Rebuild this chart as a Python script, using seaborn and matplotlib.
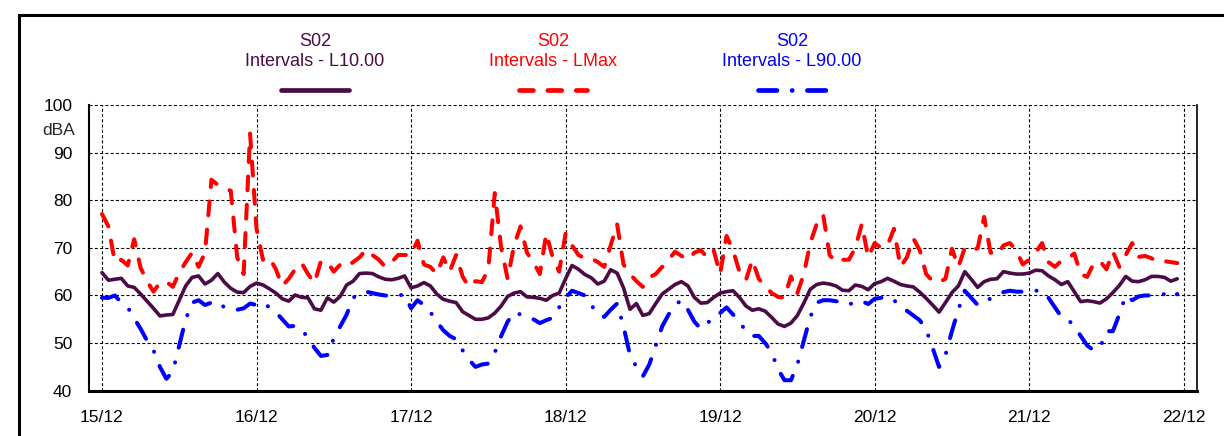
### Dependencies ---------------------------------------------------------------
import numpy as np
import pandas as pd
import matplotlib
matplotlib.use("Agg")
import matplotlib.pyplot as plt
import matplotlib.transforms as mtransforms
from matplotlib.lines import Line2D
from matplotlib.patches import Rectangle
import seaborn as sns

### Data (hourly values, 15/12 00:00 -> 21/12 23:00) ---------------------------
day_labels = ["15/12", "16/12", "17/12", "18/12", "19/12", "20/12", "21/12", "22/12"]

l10 = [
    64.8, 63.2, 63.4, 63.6, 62.0, 61.7, 60.3, 58.8, 57.3, 55.7, 55.9, 56.0, 59.0, 62.0, 63.8, 64.1, 62.4, 63.2, 64.6, 62.8, 61.5, 60.7, 60.6, 61.9,
    62.6, 62.2, 61.4, 60.5, 59.3, 58.8, 60.1, 59.6, 59.5, 57.2, 56.9, 59.5, 58.6, 59.8, 62.2, 63.0, 64.6, 64.7, 64.6, 63.9, 63.4, 63.3, 63.6, 64.1,
    61.6, 62.0, 62.7, 62.0, 60.3, 59.2, 58.8, 58.5, 56.6, 55.8, 55.0, 55.0, 55.3, 56.3, 57.8, 59.8, 60.5, 60.8, 59.7, 59.6, 59.4, 59.0, 60.0, 60.5,
    63.5, 66.3, 65.5, 64.4, 63.7, 62.4, 63.0, 65.4, 64.7, 61.6, 57.1, 58.3, 55.8, 56.2, 58.3, 60.3, 61.3, 62.3, 62.9, 62.0, 59.6, 58.4, 58.5, 59.6,
    60.5, 60.8, 61.0, 59.6, 57.8, 56.9, 57.2, 56.7, 55.4, 54.0, 53.5, 54.2, 55.8, 58.4, 61.3, 62.3, 62.6, 62.4, 62.0, 61.1, 61.0, 62.2, 61.9, 61.2,
    62.5, 62.9, 63.6, 63.0, 62.3, 62.0, 61.8, 60.7, 59.4, 58.0, 56.5, 58.5, 60.6, 62.0, 65.0, 63.4, 61.7, 62.9, 63.4, 63.5, 65.0, 64.7, 64.5, 64.5,
    64.7, 65.3, 65.2, 64.1, 63.3, 62.3, 62.9, 60.8, 58.7, 58.9, 58.7, 58.4, 59.3, 60.6, 62.1, 64.0, 63.0, 62.9, 63.3, 64.0, 64.0, 63.8, 63.0, 63.5,
]

lmax = [
    77.1, 74.5, 67.0, 67.5, 66.3, 71.8, 65.8, 63.0, 60.8, 62.7, 62.9, 61.8, 64.8, 67.0, 69.0, 66.0, 69.0, 84.3, 83.2, 82.5, 82.0, 68.0, 64.5, 94.0,
    74.0, 67.5, 68.0, 65.5, 62.0, 63.5, 65.5, 66.8, 64.5, 62.6, 67.2, 67.0, 65.0, 66.5, 66.0, 67.0, 68.0, 69.6, 68.5, 67.5, 66.0, 67.0, 68.5, 68.5,
    68.5, 71.5, 66.5, 66.0, 64.5, 68.0, 65.0, 68.5, 64.0, 61.8, 63.0, 62.8, 65.5, 81.5, 70.0, 63.5, 70.5, 74.5, 69.0, 67.0, 64.5, 73.0, 68.0, 65.0,
    73.0, 70.5, 68.5, 67.8, 67.8, 67.0, 66.0, 70.5, 75.0, 66.5, 64.5, 63.0, 61.8, 63.8, 64.5, 66.0, 67.5, 69.2, 68.3, 67.5, 69.0, 69.5, 68.0, 69.5,
    64.5, 72.5, 69.5, 65.0, 63.2, 67.5, 63.5, 62.0, 60.5, 59.7, 59.5, 64.0, 60.5, 64.5, 71.0, 75.0, 77.0, 68.5, 67.0, 67.5, 67.5, 70.0, 75.0, 68.0,
    71.0, 70.0, 70.5, 74.0, 66.0, 68.0, 72.0, 69.5, 64.5, 63.0, 62.8, 63.5, 69.8, 66.0, 70.0, 69.5, 69.9, 76.5, 69.0, 68.5, 70.5, 71.0, 69.5, 66.5,
    67.5, 69.0, 71.0, 67.0, 66.0, 67.3, 67.8, 68.8, 64.5, 63.9, 66.7, 67.2, 65.5, 69.2, 66.0, 68.5, 71.0, 68.1, 68.3, 67.8, 67.1, 67.2, 67.0, 66.8,
]

l90 = [
    59.5, 59.5, 60.0, 58.5, 57.5, 55.2, 53.0, 50.5, 48.5, 45.0, 42.5, 44.0, 49.5, 55.0, 58.5, 59.0, 58.0, 58.5, 58.7, 57.5, 57.0, 57.0, 57.3, 58.3,
    58.0, 58.5, 57.5, 56.5, 55.0, 53.5, 53.6, 53.0, 51.0, 49.0, 47.3, 47.5, 51.0, 53.5, 56.0, 59.5, 60.5, 60.8, 60.5, 60.2, 60.0, 59.8, 60.0, 60.2,
    57.3, 59.0, 58.0, 56.5, 54.5, 52.7, 51.5, 50.8, 48.5, 46.5, 45.0, 45.5, 45.7, 48.0, 51.5, 54.5, 56.5, 56.0, 55.2, 55.0, 54.2, 54.8, 55.3, 57.5,
    59.5, 61.0, 60.5, 60.0, 58.0, 56.0, 55.5, 57.0, 58.3, 53.5, 47.5, 45.0, 43.0, 45.5, 49.5, 53.5, 56.0, 58.0, 59.0, 57.0, 54.5, 53.0, 54.0, 55.8,
    56.3, 57.5, 56.0, 54.5, 52.5, 51.5, 51.5, 50.0, 48.0, 44.5, 42.2, 42.2, 45.5, 50.5, 55.5, 58.5, 59.0, 59.0, 58.8, 58.5, 58.0, 58.8, 58.8, 58.2,
    59.3, 59.5, 59.8, 59.0, 57.8, 56.8, 55.8, 54.8, 52.8, 49.0, 45.0, 47.5, 52.5, 57.0, 61.0, 59.5, 58.0, 59.0, 59.3, 60.0, 60.7, 61.0, 60.8, 60.8,
    60.7, 61.0, 61.0, 59.5, 57.5, 55.5, 55.0, 53.5, 51.5, 49.5, 48.5, 49.0, 52.5, 52.5, 56.0, 60.0, 59.0, 59.8, 60.0, 60.0, 60.0, 60.3, 59.5, 60.3,
]

series_names = ["Intervals - L10.00", "Intervals - LMax", "Intervals - L90.00"]
site = "S02"

df = pd.DataFrame({"day": np.arange(len(l10)) / 24, "L10": l10, "LMax": lmax, "L90": l90})

### Style ----------------------------------------------------------------------
sns.set_theme(style="white")
plt.rcParams["font.family"] = ["Liberation Sans", "DejaVu Sans"]
plt.rcParams["lines.scale_dashes"] = False

purple = "#4a0b46"
red = "#ff0000"
blue = "#0000ff"
red_ls = (0, (10, 10.4))
blue_ls = (0, (13.3, 10.9, 0.1, 10.9))

fig = plt.figure(figsize=(12.24, 4.36), dpi=100)
ax = fig.add_axes([89 / 1224, 1 - 390.7 / 436, (1196.7 - 89) / 1224, (390.7 - 105) / 436])

# lines
sns.lineplot(data=df, x="day", y="L90", ax=ax, color=blue, lw=2.9, linestyle=blue_ls,
             dash_capstyle="round", zorder=3)
sns.lineplot(data=df, x="day", y="LMax", ax=ax, color=red, lw=2.9, linestyle=red_ls,
             dash_capstyle="round", zorder=3)
sns.lineplot(data=df, x="day", y="L10", ax=ax, color=purple, lw=2.6,
             solid_joinstyle="round", zorder=4)

# axes
ax.set_xlim(-0.084, 7.084)
ax.set_ylim(40, 100)
ax.set_xticks(range(len(day_labels)))
ax.set_xticklabels(day_labels)
ax.set_yticks(range(40, 101, 10))
ax.set_xlabel("")
ax.set_ylabel("")
ax.grid(True, color="black", linestyle=(0, (2.2, 1.6)), linewidth=0.8)
ax.set_axisbelow(True)
ax.tick_params(axis="both", direction="out", length=10, width=1, color="#666666",
               labelsize=12.5, labelcolor="black", pad=2)
ax.tick_params(axis="x", pad=4)
ax.spines["top"].set_visible(False)
ax.spines["left"].set_linewidth(1.5)
ax.spines["bottom"].set_linewidth(2.2)
ax.spines["right"].set_linewidth(1.2)
for s in ["left", "bottom", "right"]:
    ax.spines[s].set_color("black")

trans = mtransforms.blended_transform_factory(ax.transAxes, ax.transData)
ax.text(-0.013, 94.6, "dBA", transform=trans, ha="right", va="center", fontsize=12.5)

# custom legend above the plot
W, H = 1224, 436
leg = [(315, purple, "-"), (553, red, red_ls), (792, blue, blue_ls)]
for (cx, col, ls), name in zip(leg, series_names):
    fig.text(cx / W, 1 - 41 / H, site, color=col, ha="center", va="center", fontsize=13)
    fig.text(cx / W, 1 - 61 / H, name, color=col, ha="center", va="center", fontsize=13)
    fig.add_artist(Line2D([(cx - 34) / W, (cx + 34) / W], [1 - 90 / H, 1 - 90 / H],
                          color=col, lw=3.4, linestyle=ls, dash_capstyle="round",
                          solid_capstyle="round", transform=fig.transFigure))

# outer frame (cut at the right and bottom edges)
fig.add_artist(Rectangle((19 / W, -0.05), 1.1, (1 - 15 / H) + 0.05, transform=fig.transFigure,
                         fill=False, ec="black", lw=2.2, clip_on=False))

fig.savefig("out.png", dpi=100)
